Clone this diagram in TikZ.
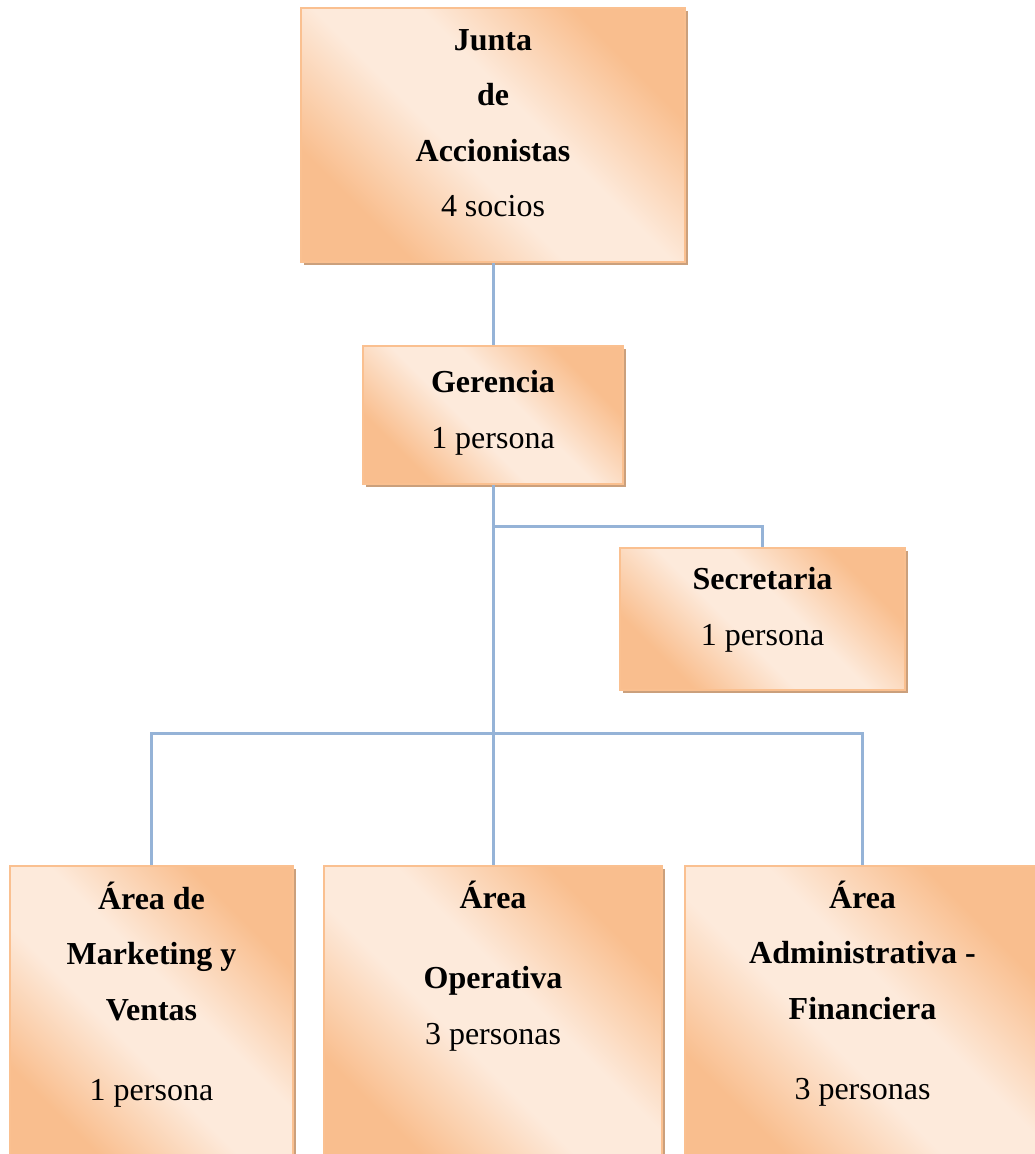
\documentclass[tikz,border=0pt]{standalone}
\usepackage{fontspec}
\setmainfont{Liberation Serif}
\usetikzlibrary{shadows}
\definecolor{boxdark}{RGB}{249,190,142}
\definecolor{boxlight}{RGB}{253,234,219}
\definecolor{boxedge}{RGB}{250,192,144}
\definecolor{boxshade}{RGB}{203,160,124}
\definecolor{linkblue}{RGB}{149,179,215}
\pgfdeclareverticalshading{orgfade}{100bp}{color(0bp)=(boxdark); color(27bp)=(boxdark);
  color(44bp)=(boxlight); color(56bp)=(boxlight); color(73bp)=(boxdark); color(100bp)=(boxdark)}
\begin{document}
\begin{tikzpicture}[x=0.5pt,y=-0.5pt,
  orgbox/.style={rectangle,inner sep=0pt,draw=boxedge,line width=0.8pt,
    shading=orgfade,shading angle=-45,
    drop shadow={shadow xshift=1.5pt,shadow yshift=-1.5pt,fill=boxshade,opacity=1}},
  orgtxt/.style={anchor=base,align=center,inner sep=0pt,font=\fontsize{16}{27.8}\selectfont},
  link/.style={draw=linkblue,line width=1.5pt}]
\useasboundingbox (0,0) rectangle (1034,1154);

\node[orgbox,minimum width=192pt,minimum height=127pt] (junta) at (493,135) {};
\node[orgtxt] (junta-t) at (493,217) {\textbf{Junta}\\\textbf{de}\\\textbf{Accionistas}\\4 socios};

\node[orgbox,minimum width=130pt,minimum height=69pt] (ger) at (493,415) {};
\node[orgtxt] (ger-t) at (493,448) {\textbf{Gerencia}\\1 persona};

\node[orgbox,minimum width=142.5pt,minimum height=71pt] (sec) at (762.5,619) {};
\node[orgtxt] (sec-t) at (762.5,645) {\textbf{Secretaria}\\1 persona};

\node[orgbox,minimum width=141.5pt,minimum height=152pt] (mkt) at (151.5,1018) {};
\node[orgtxt] (mkt-t) at (151.5,1100) {\textbf{Área de}\\\textbf{Marketing y}\\\textbf{Ventas}\\[12pt]1 persona};

\node[orgbox,minimum width=169pt,minimum height=152pt] (oper) at (493,1018) {};
\node[orgtxt] (oper-t) at (493,1044) {\textbf{Área}\\[12pt]\textbf{Operativa}\\3 personas};

\node[orgbox,minimum width=177.5pt,minimum height=152pt] (adm) at (862.5,1018) {};
\node[orgtxt] (adm-t) at (862.5,1099) {\textbf{Área}\\\textbf{Administrativa -}\\\textbf{Financiera}\\[12pt]3 personas};

% connectors
\draw[link] (junta) -- (ger);
\draw[link] (ger.south) -- ++(0,42) -| (sec.north);
\draw[link] (ger.south) -- (oper.north);
\path (ger.south) ++(0,249) coordinate (bus);
\draw[link] (mkt.north) |- (bus) -| (adm.north);
\end{tikzpicture}
\end{document}
